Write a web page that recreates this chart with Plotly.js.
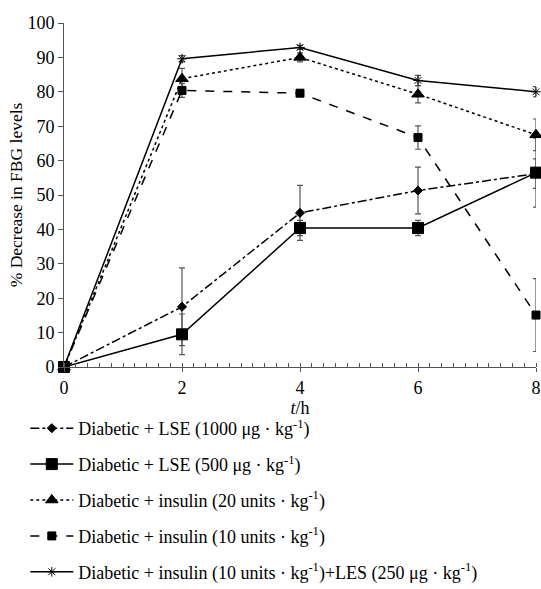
<!DOCTYPE html>
<html>
<head>
<meta charset="utf-8">
<script src="https://cdn.plot.ly/plotly-3.0.1.min.js"></script>
<style>html,body{margin:0;padding:0;background:#fff;}#chart{width:541px;height:589px;}</style>
</head>
<body>
<div id="chart"></div>
<script>
const hours = [0, 2, 4, 6, 8];

const seriesNames = [
  "Diabetic + LSE (1000 μg · kg<sup>-1</sup>)",
  "Diabetic + LSE (500 μg · kg<sup>-1</sup>)",
  "Diabetic + insulin (20 units · kg<sup>-1</sup>)",
  "Diabetic + insulin (10 units · kg<sup>-1</sup>)",
  "Diabetic + insulin (10 units · kg<sup>-1</sup>)+LES (250 μg · kg<sup>-1</sup>)"
];

const lse1000 = [0, 17.5, 44.8, 51.3, 56.2];
const lse1000Err = [0, 11.3, 8.0, 6.8, 4.3];

const lse500 = [0, 9.5, 40.4, 40.4, 56.5];
const lse500Err = [0, 5.9, 2.2, 2.2, 10.0];

const insulin20 = [0, 83.8, 90.0, 79.3, 67.5];
const insulin20Err = [0, 3.0, 1.3, 2.5, 4.6];

const insulin10 = [0, 80.4, 79.6, 66.7, 15.1];
const insulin10Err = [0, 2.0, 0.9, 3.4, 10.6];

const insulinLes = [0, 89.6, 92.9, 83.3, 80.0];
const insulinLesErr = [0, 0.9, 0.6, 1.5, 1.5];

const yTickVals = [0, 10, 20, 30, 40, 50, 60, 70, 80, 90, 100];
const xTickVals = [0, 2, 4, 6, 8];

const styles = [
  {dash: "dashdot", symbol: "diamond", size: 7},
  {dash: "solid", symbol: "square", size: 11},
  {dash: "dot", symbol: "triangle-up", size: 11},
  {dash: "dash", symbol: "square", size: 8},
  {dash: "solid", symbol: "asterisk-open", size: 8}
];
const values = [lse1000, lse500, insulin20, insulin10, insulinLes];
const errs = [lse1000Err, lse500Err, insulin20Err, insulin10Err, insulinLesErr];

const traces = values.map((v, i) => ({
  x: hours,
  y: v,
  name: seriesNames[i],
  legendgroup: "g" + i,
  type: "scatter",
  mode: "lines+markers",
  cliponaxis: false,
  line: {color: "#000", width: 1.5, dash: styles[i].dash},
  marker: {color: "#000", symbol: styles[i].symbol, size: styles[i].size,
           line: {color: "#000", width: 1}},
  error_y: {type: "data", array: errs[i], visible: true, color: "#555", thickness: 1.2, width: 3}
}));

const layout = {
  width: 541,
  height: 589,
  margin: {l: 64, r: 5, t: 23, b: 222, autoexpand: false},
  paper_bgcolor: "#fff",
  plot_bgcolor: "#fff",
  font: {family: "Liberation Serif, Times New Roman, serif", color: "#000", size: 18},
  showlegend: true,
  legend: {
    x: -0.082, xanchor: "left",
    y: -0.125, yanchor: "top",
    font: {size: 18, color: "#000", family: "Liberation Serif, serif"},
    tracegroupgap: 9.5,
    itemwidth: 43,
    bgcolor: "rgba(0,0,0,0)"
  },
  xaxis: {
    range: [0, 8],
    tickvals: xTickVals,
    ticktext: xTickVals.map(String),
    showgrid: false,
    zeroline: false,
    showline: true,
    linecolor: "#555",
    linewidth: 1,
    ticks: "outside",
    ticklen: 4,
    tickcolor: "#555",
    tickfont: {size: 18},
    minor: {dtick: 0.2, ticks: "inside", ticklen: 4, tickcolor: "#555", showgrid: false},
    title: {text: "<i>t</i>/h", font: {size: 18}, standoff: 0}
  },
  yaxis: {
    range: [0, 100],
    tickvals: yTickVals,
    ticktext: yTickVals.map(String),
    showgrid: false,
    zeroline: false,
    showline: true,
    linecolor: "#555",
    linewidth: 1,
    ticks: "outside",
    ticklen: 5,
    tickcolor: "#555",
    tickfont: {size: 18},
    title: {text: "% Decrease in FBG levels", font: {size: 17.5}, standoff: 0}
  }
};

Plotly.newPlot("chart", traces, layout, {displayModeBar: false, staticPlot: true});
</script>
</body>
</html>
